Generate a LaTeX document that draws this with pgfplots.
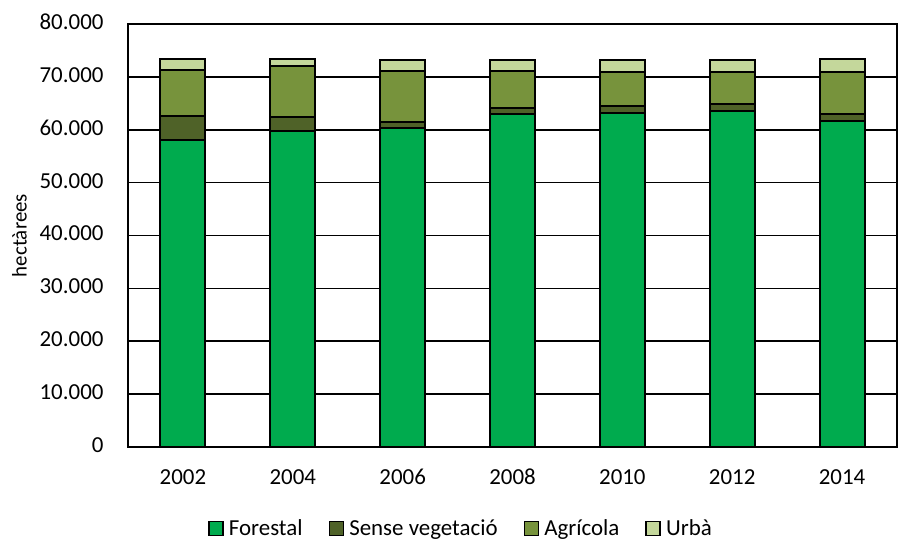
\documentclass[border=0pt]{standalone}
\usepackage{pgfplots}
\pgfplotsset{compat=1.18}
\usepackage{fontspec}
\setmainfont{Carlito}

\definecolor{forestal}{RGB}{0,171,78}
\definecolor{sensev}{RGB}{79,98,40}
\definecolor{agricola}{RGB}{119,147,60}
\definecolor{urba}{RGB}{196,215,155}

% sup. per categoria (ha)
\pgfplotstableread{
x forestal sense agricola urba
0 58070 4500 8690 2120
1 59750 2690 9560 1380
2 60320 1130 9680 2130
3 63060 1120 6950 2130
4 63250 1310 6380 2320
5 63570 1360 6080 2250
6 61630 1320 8060 2440
}\dades

\begin{document}
\begin{tikzpicture}
\begin{axis}[
  name=ax,
  scale only axis,
  width=769bp, height=423bp,
  ybar stacked,
  bar width=0.41,
  xmin=-0.5, xmax=6.5,
  ymin=0, ymax=80000,
  xtick={0,...,6},
  xticklabels={2002,2004,2006,2008,2010,2012,2014},
  ytick={0,10000,...,80000},
  scaled y ticks=false,
  /pgf/number format/.cd, 1000 sep={.}, assume math mode=true,
  /pgfplots/.cd,
  major tick length=0pt,
  typeset ticklabels with strut,
  ymajorgrids,
  grid style={black, line width=1.6bp},
  axis line style={black, line width=1.6bp},
  tick label style={font=\fontsize{23}{27}\selectfont, black},
  xticklabel style={yshift=-15bp},
  yticklabel style={xshift=-21bp},
  ylabel={hectàrees},
  ylabel style={font=\fontsize{21}{25}\selectfont, yshift=6bp},
  every axis plot/.append style={draw=black, line width=2bp},
  legend style={draw=none, at={(0.433,-0.193)}, anchor=center,
    legend columns=4, font=\fontsize{23}{27}\selectfont,
    /tikz/every even column/.append style={column sep=24bp}},
  legend image code/.code={\draw[#1, line width=1.4bp] (0bp,-7bp) rectangle (14bp,7bp); \path (17bp,0bp);},
]
\addplot[fill=forestal] table[x=x, y=forestal] {\dades};
\addplot[fill=sensev] table[x=x, y=sense] {\dades};
\addplot[fill=agricola] table[x=x, y=agricola] {\dades};
\addplot[fill=urba] table[x=x, y=urba] {\dades};
\legend{Forestal, Sense vegetació, Agrícola, Urbà}
\end{axis}
\pgfresetboundingbox
\path ([shift={(-128bp,-94bp)}]ax.south west) rectangle ([shift={(7bp,24bp)}]ax.north east);
\end{tikzpicture}
\end{document}
